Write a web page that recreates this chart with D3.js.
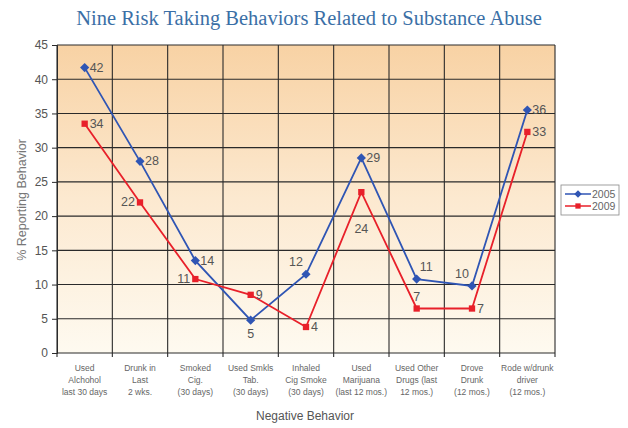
<!DOCTYPE html>
<html><head><meta charset="utf-8">
<script src="https://cdn.jsdelivr.net/npm/d3@7"></script>
<style>body{margin:0;background:#fff;}svg{display:block;}</style>
</head><body>
<svg id="c" width="628" height="428"></svg>
<script>
const categories = [
  ["Used","Alchohol","last 30 days"],
  ["Drunk in","Last","2 wks."],
  ["Smoked","Cig.","(30 days)"],
  ["Used Smkls","Tab.","(30 days)"],
  ["Inhaled","Cig Smoke","(30 days)"],
  ["Used","Marijuana","(last 12 mos.)"],
  ["Used Other","Drugs (last","12 mos.)"],
  ["Drove","Drunk","(12 mos.)"],
  ["Rode w/drunk","driver","(12 mos.)"]
];
const values2005 = [41.7, 28, 13.5, 4.8, 11.5, 28.5, 10.8, 9.8, 35.5];
const values2009 = [33.5, 22, 10.8, 8.5, 3.8, 23.5, 6.5, 6.5, 32.3];
const labels2005 = ["42","28","14","5","12","29","11","10","36"];
const labels2009 = ["34","22","11","9","4","24","7","7","33"];
const labelPos2005 = ["r","r","r","b","tl","r","tr","tl","r"];
const labelPos2009 = ["r","l","l","r","r","bb","t","r","r"];
const yTicks = [0,5,10,15,20,25,30,35,40,45];

const svg = d3.select("#c");
const L = 57, R = 555, T = 45, B = 353;
const x = d3.scaleBand().domain(d3.range(categories.length)).range([L, R]).padding(0);
const y = d3.scaleLinear().domain([0, 45]).range([B, T]);

const defs = svg.append("defs");
const g = defs.append("linearGradient").attr("id","bg").attr("x1",0).attr("y1",0).attr("x2",0).attr("y2",1);
g.append("stop").attr("offset","0%").attr("stop-color","#f8d2a4");
g.append("stop").attr("offset","50%").attr("stop-color","#fce9d0");
g.append("stop").attr("offset","100%").attr("stop-color","#fefaf0");

svg.append("rect").attr("x",L).attr("y",T).attr("width",R-L).attr("height",B-T).attr("fill","url(#bg)");

// grid
svg.append("g").selectAll("line").data(yTicks).join("line")
  .attr("x1",L).attr("x2",R).attr("y1",d=>y(d)).attr("y2",d=>y(d))
  .attr("stroke","#2a2a2a").attr("stroke-width",1.1);
svg.append("g").selectAll("line").data(d3.range(categories.length+1)).join("line")
  .attr("x1",d=>L+d*x.bandwidth()).attr("x2",d=>L+d*x.bandwidth())
  .attr("y1",T).attr("y2",B+4)
  .attr("stroke","#2a2a2a").attr("stroke-width",1.1);

// y axis
const yAxis = d3.axisLeft(y).tickValues(yTicks).tickSize(5).tickPadding(4);
const ya = svg.append("g").attr("transform",`translate(${L},0)`).call(yAxis);
ya.select(".domain").attr("stroke","#2a2a2a");
ya.selectAll(".tick line").attr("stroke","#2a2a2a");
ya.selectAll("text").attr("fill","#555").attr("font-family","Liberation Sans, Arial, sans-serif").attr("font-size",12);

// x labels
const xl = svg.append("g");
categories.forEach((lines,i)=>{
  const t = xl.append("text").attr("x", x(i)+x.bandwidth()/2).attr("y", 371)
    .attr("text-anchor","middle").attr("fill","#666")
    .attr("font-family","Liberation Sans Narrow, Liberation Sans, Arial, sans-serif").attr("font-size",8.5);
  lines.forEach((s,j)=>t.append("tspan").attr("x", x(i)+x.bandwidth()/2).attr("dy", j===0?0:12).text(s));
});

// titles
svg.append("text").attr("x",309).attr("y",25).attr("text-anchor","middle")
  .attr("font-family","Liberation Serif, DejaVu Serif, serif").attr("font-size",20.5).attr("fill","#3b6fa6")
  .text("Nine Risk Taking Behaviors Related to Substance Abuse");
svg.append("text").attr("x",305).attr("y",420).attr("text-anchor","middle")
  .attr("font-family","Liberation Sans, Arial, sans-serif").attr("font-size",12).attr("fill","#555")
  .text("Negative Behavior");
svg.append("text").attr("transform","translate(26,200) rotate(-90)").attr("text-anchor","middle")
  .attr("font-family","Liberation Sans, Arial, sans-serif").attr("font-size",12.5).attr("fill","#777")
  .text("% Reporting Behavior");

const cx = i => x(i)+x.bandwidth()/2;
const line = d3.line().x((d,i)=>cx(i)).y(d=>y(d));

function series(vals, labels, pos, color, diamond){
  svg.append("path").datum(vals).attr("d",line).attr("fill","none").attr("stroke",color).attr("stroke-width",1.8);
  const sym = d3.symbol().type(d3.symbolSquare).size(diamond?42:40);
  svg.append("g").selectAll("path").data(vals).join("path")
    .attr("transform",(d,i)=>`translate(${cx(i)},${y(d)})` + (diamond?" rotate(45)":"")).attr("d",sym).attr("fill",color);
  const off = {r:[5,4,"start"], l:[-5,4,"end"], b:[0,18,"middle"], bb:[0,41,"middle"], t:[0,-8,"middle"], tl:[-3,-8,"end"], tr:[3,-8,"start"]};
  svg.append("g").selectAll("text").data(vals).join("text")
    .attr("x",(d,i)=>cx(i)+off[pos[i]][0]).attr("y",(d,i)=>y(d)+off[pos[i]][1])
    .attr("text-anchor",(d,i)=>off[pos[i]][2])
    .attr("font-family","Liberation Sans, Arial, sans-serif").attr("font-size",12.5).attr("fill","#555")
    .text((d,i)=>labels[i]);
}
series(values2005, labels2005, labelPos2005, "#2f55b4", true);
series(values2009, labels2009, labelPos2009, "#e8202a", false);

// legend
const lg = svg.append("g").attr("transform","translate(561,185)");
lg.append("rect").attr("width",58).attr("height",30).attr("fill","#fff").attr("stroke","#888").attr("stroke-width",0.8);
[["2005","#2f55b4",true],["2009","#e8202a",false]].forEach((e,i)=>{
  const yy = 9+i*12;
  lg.append("line").attr("x1",4).attr("x2",30).attr("y1",yy).attr("y2",yy).attr("stroke",e[1]).attr("stroke-width",1.5);
  lg.append("path").attr("transform",`translate(17,${yy})`+(e[2]?" rotate(45)":"")).attr("d",d3.symbol().type(d3.symbolSquare).size(28)).attr("fill",e[1]);
  lg.append("text").attr("x",31).attr("y",yy+4).attr("font-family","Liberation Sans, Arial, sans-serif").attr("font-size",10.5).attr("fill","#666").text(e[0]);
});
</script>
</body></html>
